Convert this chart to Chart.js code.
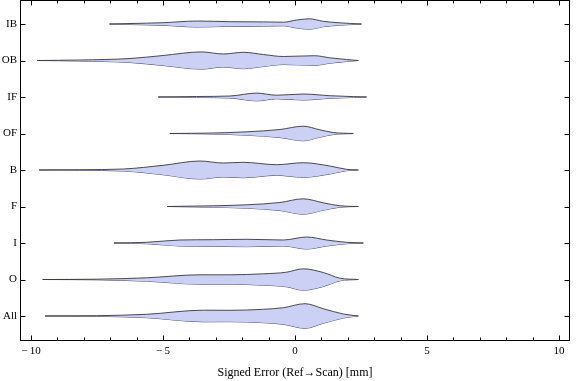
<!DOCTYPE html>
<html><head><meta charset="utf-8">
<script src="https://cdn.jsdelivr.net/npm/chart.js@4"></script>
<style>html,body{margin:0;padding:0;background:#fff}canvas{display:block}</style>
</head><body>
<canvas id="c" width="576" height="381"></canvas>
<script>
// ---- data ----
const categories = ['IB','OB','IF','OF','B','F','I','O','All'];   // top to bottom
const xTickValues = [-10, -5, 0, 5, 10];
const xTitle = 'Signed Error (Ref\u2192Scan) [mm]';

// error positions (mm) and estimated density (violin half-width) at each position
const errIB  = [-7.03, -6.25, -5.0, -3.7, -2.46, -1.2, -0.44, 0.06, 0.55, 1.07, 1.7, 2.52];
const densIB = [0, 0.5, 1.3, 3.0, 2.3, 2.1, 1.8, 4.0, 5.2, 2.7, 1.2, 0];
const errOB  = [-9.76, -8.15, -6.25, -5.0, -3.54, -2.72, -1.96, -1.2, -0.44, 0.75, 1.32, 1.95, 2.4];
const densOB = [0, 0.5, 2.0, 5.0, 8.6, 6.5, 8.2, 6.0, 4.0, 4.8, 2.7, 1.0, 0];
const errIF  = [-5.18, -3.73, -2.46, -1.45, -0.7, 0.31, 1.32, 2.21, 2.71];
const densIF = [0, 0.5, 1.0, 3.9, 1.8, 3.0, 1.3, 0.4, 0];
const errOF  = [-4.74, -3.1, -1.83, -0.57, 0.31, 0.94, 1.45, 2.21];
const densOF = [0, 0.5, 1.7, 4.0, 7.3, 3.7, 1.0, 0];
const errB   = [-9.69, -8.15, -6.5, -5.0, -3.6, -2.72, -1.96, -0.7, 0.31, 1.32, 1.95, 2.4];
const densB  = [0, 0.3, 1.0, 4.7, 9.0, 7.0, 7.7, 5.3, 7.3, 4.0, 0.7, 0];
const errF   = [-4.84, -3.1, -1.83, -0.57, 0.31, 1.07, 1.7, 2.4];
const densF  = [0, 0.7, 1.7, 4.0, 7.7, 3.7, 0.7, 0];
const errI   = [-6.86, -5.62, -4.36, -3.1, -1.83, -0.44, 0.44, 1.2, 1.95, 2.59];
const densI  = [0, 0.7, 3.0, 3.3, 3.7, 3.0, 6.0, 3.0, 0.7, 0];
const errO   = [-9.56, -7.51, -5.62, -3.6, -2.46, -1.2, -0.32, 0.31, 1.07, 1.7, 2.4];
const densO  = [0, 0.3, 1.7, 4.7, 4.7, 5.7, 7.3, 10.7, 7.0, 1.3, 0];
const errAll = [-9.47, -7.51, -5.62, -3.47, -2.46, -1.2, -0.44, 0.38, 1.07, 1.83, 2.4];
const densAll= [0, 0.3, 1.7, 5.8, 5.7, 6.7, 8.3, 12.3, 7.3, 2.0, 0];

const errs = [errIB, errOB, errIF, errOF, errB, errF, errI, errO, errAll];
const dens = [densIB, densOB, densIF, densOF, densB, densF, densI, densO, densAll];

// ---- styling ----
const DENS_SCALE = 1 / 36.5;   // density -> category units
const FILL = 'rgb(203,208,244)';
const EDGE = 'rgba(55,55,70,0.9)';
const FONT = 'Liberation Serif';

const n = categories.length;
const datasets = [];
categories.forEach((cat, i) => {
  const yc = n - i;
  const xs = errs[i], ds = dens[i];
  const common = {borderColor: EDGE, borderWidth: 1, pointRadius: 0, cubicInterpolationMode: 'monotone', label: cat};
  datasets.push(Object.assign({data: xs.map((x, k) => ({x, y: yc + ds[k] * DENS_SCALE})), fill: '+1', backgroundColor: FILL}, common));
  datasets.push(Object.assign({data: xs.map((x, k) => ({x, y: yc - ds[k] * DENS_SCALE})), fill: false}, common));
});

const fmt = v => v < 0 ? '\u2212\u2009' + Math.abs(v) : String(v);

const framePlugin = {
  id: 'frame',
  afterDraw(chart) {
    const {ctx, chartArea: a, scales: {x, y}} = chart;
    ctx.save();
    ctx.strokeStyle = '#000';
    ctx.lineWidth = 1;
    const L = Math.round(a.left) + 0.5, R = Math.round(a.right) - 0.5;
    const T = Math.round(a.top) + 0.5, B = Math.round(a.bottom) - 0.5;
    ctx.strokeRect(L, T, R - L, B - T);
    ctx.beginPath();
    for (let v = Math.ceil(x.min); v <= Math.floor(x.max); v++) {
      const px = Math.round(x.getPixelForValue(v)) + 0.5;
      const len = xTickValues.includes(v) ? 5 : 3;
      ctx.moveTo(px, B); ctx.lineTo(px, B - len);
      ctx.moveTo(px, T); ctx.lineTo(px, T + len);
    }
    y.ticks.forEach(t => {
      const py = Math.round(y.getPixelForValue(t.value)) + 0.5;
      ctx.moveTo(L, py); ctx.lineTo(L + 5, py);
      ctx.moveTo(R, py); ctx.lineTo(R - 5, py);
    });
    ctx.stroke();
    ctx.restore();
  }
};

const noPad = s => { s.paddingTop = 0; s.paddingBottom = 0; s.paddingLeft = 0; s.paddingRight = 0; };

new Chart(document.getElementById('c'), {
  type: 'line',
  data: {datasets},
  plugins: [framePlugin],
  options: {
    responsive: false,
    animation: false,
    events: [],
    layout: {padding: {left: 0, right: 6, top: 0, bottom: 0}},
    plugins: {legend: {display: false}, tooltip: {enabled: false}},
    scales: {
      x: {
        type: 'linear', min: -10.417, max: 10.417,
        afterBuildTicks: s => { s.ticks = xTickValues.map(v => ({value: v})); },
        ticks: {callback: v => fmt(v), color: '#000', font: {family: FONT, size: 11}, padding: 4, maxRotation: 0, autoSkip: false},
        grid: {display: false, drawTicks: false},
        border: {display: false},
        title: {display: true, text: xTitle, color: '#000', font: {family: FONT, size: 12}, padding: {top: 0, bottom: 1}},
        afterFit: s => { s.height = 40; noPad(s); }
      },
      y: {
        type: 'linear', min: 0.315, max: 9.658,
        afterBuildTicks: s => { s.ticks = categories.map((c, i) => ({value: n - i})); },
        ticks: {callback: v => categories[n - v], color: '#000', font: {family: FONT, size: 11}, padding: 3, autoSkip: false},
        grid: {display: false, drawTicks: false},
        border: {display: false},
        afterFit: s => { s.width = 20; noPad(s); }
      }
    }
  }
});
</script>
</body></html>
